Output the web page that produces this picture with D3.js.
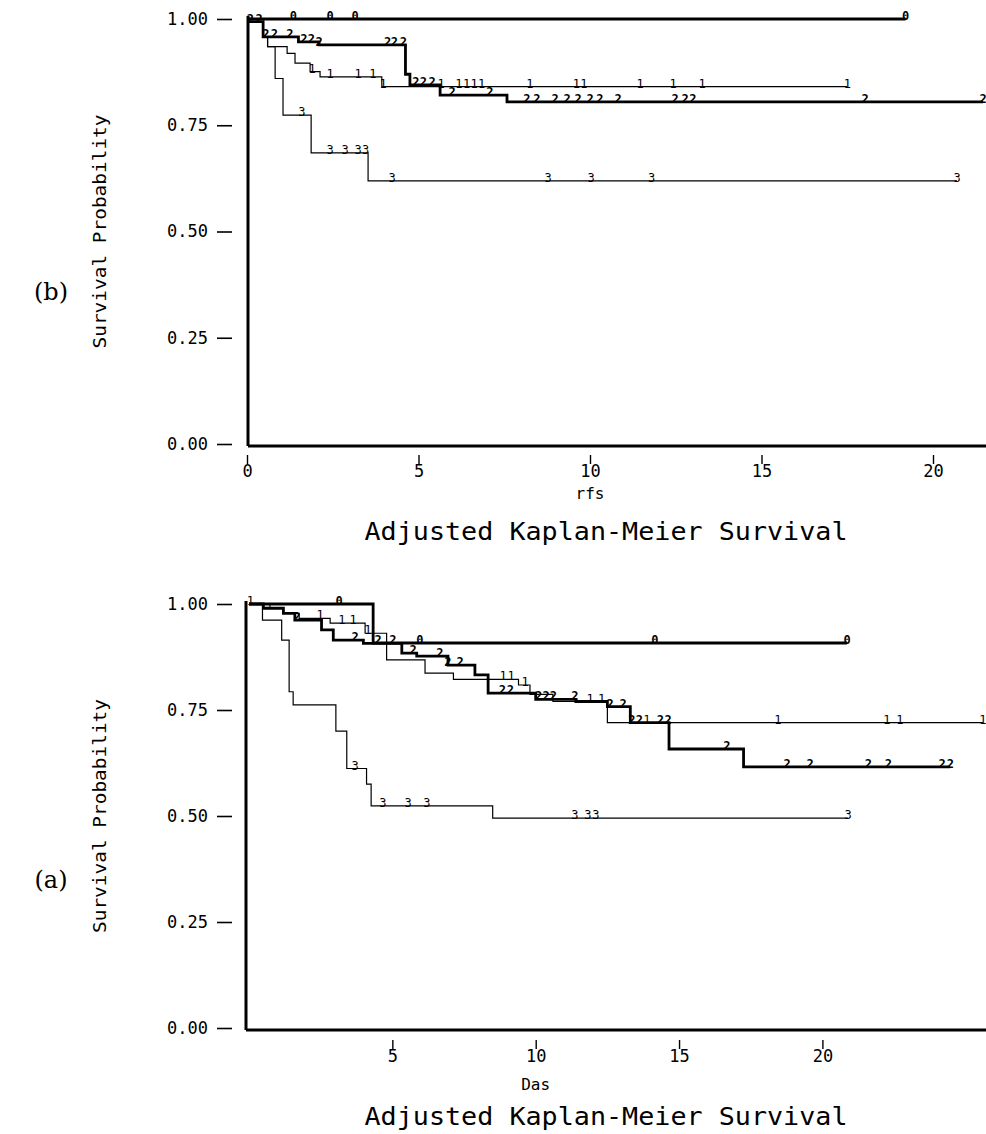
<!DOCTYPE html>
<html>
<head>
<meta charset="utf-8">
<script src="https://cdn.jsdelivr.net/npm/d3@7"></script>
<style>
    body { margin: 0; background: #fff; }
    svg { display: block; }
    text { fill: #000; }
</style>
</head>
<body>
<svg id="chart" width="986" height="1134"></svg>
<script>
const groups = ["0", "1", "2", "3"];
const thickGroups = ["0", "2"];

// panel (b): rfs, step points [time, survival] and censored times per group
const rfsStep0 = [[0, 1]];
const rfsStep1 = [[0, 1], [0.05, 0.994], [0.47, 0.958], [0.6, 0.935], [1.17, 0.919], [1.4, 0.896], [1.84, 0.876], [2.13, 0.864], [3.93, 0.841]];
const rfsStep2 = [[0, 1], [0.05, 0.994], [0.47, 0.958], [1.5, 0.946], [2.1, 0.939], [4.62, 0.87], [4.75, 0.845], [5.63, 0.821], [7.58, 0.805]];
const rfsStep3 = [[0, 1], [0.05, 0.994], [0.47, 0.958], [0.6, 0.935], [0.82, 0.86], [1.05, 0.774], [1.87, 0.685], [3.53, 0.619]];
const rfsCens0 = [1.35, 2.42, 3.15, 19.2];
const rfsCens1 = [1.9, 2.42, 3.24, 3.67, 3.97, 5.66, 6.18, 6.4, 6.62, 6.84, 8.25, 9.6, 9.82, 11.46, 12.42, 13.27, 17.5];
const rfsCens2 = [0.1, 0.35, 0.55, 0.8, 1.25, 1.66, 1.88, 2.1, 4.1, 4.3, 4.56, 4.92, 5.14, 5.4, 5.98, 7.08,
                  8.16, 8.45, 8.98, 9.33, 9.65, 10.0, 10.29, 10.82, 12.48, 12.77, 13.0, 18.02, 21.46];
const rfsCens3 = [1.6, 2.42, 2.86, 3.24, 3.46, 4.23, 8.78, 10.03, 11.8, 20.7];

// panel (a): das
const dasStep0 = [[0, 1], [4.33, 0.908]];
const dasStep1 = [[0, 1], [0.73, 0.99], [1.2, 0.978], [1.75, 0.966], [2.83, 0.955], [4.05, 0.931], [4.8, 0.868], [6.14, 0.837],
                  [7.13, 0.822], [9.4, 0.809], [9.8, 0.787], [10.6, 0.77], [12.5, 0.72]];
const dasStep2 = [[0, 1], [0.5, 0.99], [1.2, 0.978], [1.6, 0.962], [2.53, 0.939], [2.94, 0.915], [3.99, 0.907], [5.33, 0.884],
                  [5.85, 0.877], [6.94, 0.856], [7.88, 0.833], [8.34, 0.79], [10.0, 0.775], [11.4, 0.77], [12.5, 0.758],
                  [13.3, 0.72], [14.65, 0.658], [17.25, 0.616]];
const dasStep3 = [[0, 1], [0.47, 0.962], [1.14, 0.915], [1.4, 0.793], [1.54, 0.762], [3.03, 0.7], [3.41, 0.612], [4.1, 0.575],
                  [4.26, 0.524], [8.5, 0.495]];
const dasCens0 = [3.14, 5.96, 14.16, 20.86];
const dasCens1 = [0.05, 2.48, 3.24, 3.63, 4.15, 8.86, 9.14, 9.63, 11.9, 12.3, 13.88, 18.45, 22.25, 22.7, 25.6];
const dasCens2 = [1.67, 3.7, 4.5, 5.02, 5.72, 6.66, 6.94, 7.36, 8.84, 9.12, 10.1, 10.36, 10.62, 11.37, 12.6, 13.05, 13.35, 13.62,
                  14.35, 14.62, 16.67, 18.77, 19.57, 21.6, 22.3, 24.18, 24.46];
const dasCens3 = [3.7, 4.67, 5.55, 6.2, 11.37, 11.82, 12.1, 20.9];

const rfsTicksX = [0, 5, 10, 15, 20];
const dasTicksX = [5, 10, 15, 20];
const ticksY = [0, 0.25, 0.5, 0.75, 1];

const MONO = "'DejaVu Sans Mono', monospace";
const svg = d3.select("#chart");

function survAt(steps, t) {
    let s = steps[0][1];
    steps.forEach(p => { if (p[0] <= t) s = p[1]; });
    return s;
}

function drawPanel(p) {
    const x = d3.scaleLinear().domain([0, 20]).range(p.xRange);
    const y = d3.scaleLinear().domain([0, 1]).range(p.yRange);
    const g = svg.append("g");

    // y ticks sit apart from the axis line, as in the original
    const yAxis = g.append("g")
        .attr("transform", `translate(${p.yTickX},0)`)
        .call(d3.axisLeft(y).tickValues(ticksY).tickFormat(d3.format(".2f")).tickSize(15).tickPadding(9));
    yAxis.select(".domain").remove();
    yAxis.selectAll("line").attr("stroke", "#000").attr("stroke-width", 1.6);
    yAxis.selectAll("text").attr("font-family", MONO).attr("font-size", 17).attr("fill", "#000");

    const xAxis = g.append("g")
        .attr("transform", `translate(0,${p.xTickY})`)
        .call(d3.axisBottom(x).tickValues(p.xTicks).tickFormat(d3.format("d")).tickSize(9).tickPadding(1));
    xAxis.select(".domain").remove();
    xAxis.selectAll("line").attr("stroke", "#000").attr("stroke-width", 1.4);
    xAxis.selectAll("text").attr("font-family", MONO).attr("font-size", 17).attr("fill", "#000");

    // frame lines
    g.append("line").attr("x1", p.axisX).attr("x2", p.axisX).attr("y1", y(1) - 3).attr("y2", p.axisY)
        .attr("stroke", "#000").attr("stroke-width", 3);
    g.append("line").attr("x1", p.axisX).attr("x2", 986).attr("y1", p.axisY).attr("y2", p.axisY)
        .attr("stroke", "#000").attr("stroke-width", 3);

    const line = d3.line().x(d => x(d[0])).y(d => y(d[1])).curve(d3.curveStepAfter);

    groups.forEach((grp, i) => {
        const steps = p.steps[i];
        const cens = p.cens[i];
        const end = Math.max(d3.max(cens), steps[steps.length - 1][0]);
        const pts = steps.concat([[end, steps[steps.length - 1][1]]]);
        const thick = thickGroups.includes(grp);

        g.append("path")
            .datum(pts)
            .attr("d", line)
            .attr("fill", "none")
            .attr("stroke", "#000")
            .attr("stroke-width", thick ? 2.8 : 1.2);

        // censored observations are marked with the group digit
        g.selectAll(null)
            .data(cens)
            .enter()
            .append("text")
            .attr("x", d => x(d))
            .attr("y", d => y(survAt(steps, d)) + 1)
            .attr("text-anchor", "middle")
            .attr("font-family", MONO)
            .attr("font-size", 12)
            .attr("font-weight", thick ? "bold" : "normal")
            .text(grp);
    });

    g.append("text")
        .attr("transform", `translate(${p.yLabelX},${(y(1) + y(0)) / 2}) rotate(-90)`)
        .attr("text-anchor", "middle")
        .attr("font-family", MONO)
        .attr("font-size", 17)
        .attr("textLength", 234)
        .attr("lengthAdjust", "spacingAndGlyphs")
        .text("Survival Probability");

    g.append("text")
        .attr("x", x(10)).attr("y", p.xLabelY)
        .attr("text-anchor", "middle")
        .attr("font-family", MONO)
        .attr("font-size", 16)
        .text(p.xLabel);

    g.append("text")
        .attr("x", 606).attr("y", p.titleY)
        .attr("text-anchor", "middle")
        .attr("font-family", MONO)
        .attr("font-size", 25)
        .attr("textLength", 483)
        .attr("lengthAdjust", "spacingAndGlyphs")
        .text("Adjusted Kaplan-Meier Survival");

    g.append("text")
        .attr("x", 51).attr("y", p.tagY)
        .attr("text-anchor", "middle")
        .attr("font-family", "'DejaVu Serif', serif")
        .attr("font-size", 24)
        .text(p.tag);
}

drawPanel({
    xRange: [247, 933], yRange: [444, 19],
    steps: [rfsStep0, rfsStep1, rfsStep2, rfsStep3],
    cens: [rfsCens0, rfsCens1, rfsCens2, rfsCens3],
    xTicks: rfsTicksX, xLabel: "rfs",
    yTickX: 232, xTickY: 455, axisX: 248, axisY: 446,
    yLabelX: 106, xLabelY: 499, titleY: 540, tag: "(b)", tagY: 300
});

drawPanel({
    xRange: [249, 822.4], yRange: [1028, 604],
    steps: [dasStep0, dasStep1, dasStep2, dasStep3],
    cens: [dasCens0, dasCens1, dasCens2, dasCens3],
    xTicks: dasTicksX, xLabel: "Das",
    yTickX: 232, xTickY: 1040, axisX: 246, axisY: 1030,
    yLabelX: 106, xLabelY: 1090, titleY: 1125, tag: "(a)", tagY: 888
});
</script>
</body>
</html>
